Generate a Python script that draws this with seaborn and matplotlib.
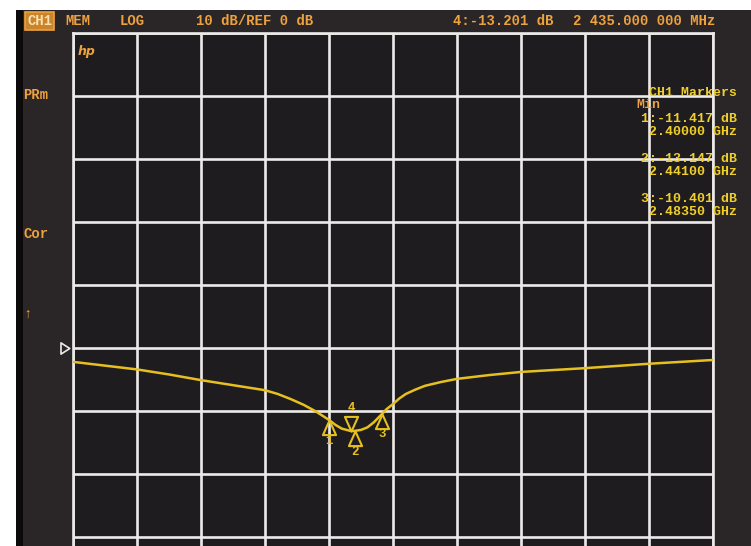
import numpy as np
import pandas as pd
import matplotlib
matplotlib.use("Agg")
import matplotlib.pyplot as plt
from matplotlib.path import Path
from matplotlib.patches import Rectangle
import seaborn as sns

# ---------------- data ----------------
freq_ghz = [2.00, 2.05, 2.10, 2.15, 2.20, 2.25, 2.30, 2.32, 2.34, 2.36, 2.38, 2.40,
            2.41, 2.42, 2.435, 2.441, 2.45, 2.46, 2.47, 2.4835, 2.49, 2.50, 2.51,
            2.52, 2.535, 2.55, 2.575, 2.60, 2.65, 2.70, 2.75, 2.80, 2.85, 2.90,
            2.95, 3.00]
s21_db = [-2.2, -2.8, -3.4, -4.2, -5.1, -5.9, -6.7, -7.3, -8.1, -9.0, -10.1, -11.417,
          -12.2, -12.8, -13.201, -13.147, -13.0, -12.6, -11.8, -10.401, -9.7, -8.9, -8.0,
          -7.3, -6.6, -6.0, -5.4, -4.9, -4.3, -3.8, -3.5, -3.2, -2.85, -2.5,
          -2.2, -1.9]

marker_ids = ["1", "2", "3", "4"]
marker_freq = [2.40, 2.441, 2.4835, 2.435]
marker_db = [-11.417, -13.147, -10.401, -13.201]

header_texts = ["MEM", "LOG", "10 dB/REF 0 dB", "4:-13.201 dB", "2 435.000 000 MHz"]
marker_list = ["1:-11.417 dB", "2.40000 GHz", "2:-13.147 dB", "2.44100 GHz",
               "3:-10.401 dB", "2.48350 GHz"]
side_labels = ["PRm", "Cor", "\u2191"]

# ---------------- styling ----------------
W, H = 751, 546
ORANGE = "#eea23e"
YELLOW = "#f0cf2a"
TRACE = "#e6c020"
GRID = "#ecebea"
FONT = "Liberation Mono"

sns.set_style("dark")
plt.rcParams["font.family"] = [FONT, "DejaVu Sans Mono", "DejaVu Sans"]

fig = plt.figure(figsize=(W / 100, H / 100), dpi=100, facecolor="white")

def fx(px):
    return px / W

def fy(py):
    return 1 - py / H

# screen background (photo of instrument screen)
fig.patches.append(Rectangle((fx(16), 0), 1 - fx(16), fy(10), transform=fig.transFigure,
                             facecolor="#2a2526", edgecolor="none", zorder=-10))
fig.patches.append(Rectangle((fx(16), 0), fx(7), fy(10), transform=fig.transFigure,
                             facecolor="#0c0a0a", edgecolor="none", zorder=-9))

# main axes: grid from x=73..713 px, top at y=33 px, 63 px per division, 10 divisions
left, top, pw, ph = 73, 33, 640, 630
ax = fig.add_axes([fx(left), fy(top + ph), fx(pw), ph / H])
ax.set_facecolor("#1e1c1e")

df = pd.DataFrame({"freq": freq_ghz, "db": s21_db})
sns.lineplot(data=df, x="freq", y="db", ax=ax, color=TRACE, linewidth=1.8, zorder=5)

ax.set_xlim(2.0, 3.0)
ax.set_ylim(-50, 50)
ax.set_xticks(np.arange(2.0, 3.0001, 0.1))
ax.set_yticks(np.arange(-50, 50.001, 10))
ax.grid(True, color=GRID, linewidth=1.9)
ax.tick_params(length=0, labelbottom=False, labelleft=False)
ax.set_xlabel("")
ax.set_ylabel("")
for sp in ax.spines.values():
    sp.set_visible(True)
    sp.set_color(GRID)
    sp.set_linewidth(1.9)

# marker triangles (tip at the data point)
up_tri = Path([(0, 0), (-0.45, -1), (0.45, -1), (0, 0)],
              [Path.MOVETO, Path.LINETO, Path.LINETO, Path.CLOSEPOLY])
down_tri = Path([(0, 0), (-0.45, 1), (0.45, 1), (0, 0)],
                [Path.MOVETO, Path.LINETO, Path.LINETO, Path.CLOSEPOLY])
for mid, mf, md in zip(marker_ids, marker_freq, marker_db):
    active = mid == "4"
    ax.plot([mf], [md], marker=down_tri if active else up_tri, markersize=21,
            markerfacecolor="none", markeredgecolor=TRACE, markeredgewidth=1.5,
            linestyle="none", zorder=6)
    ax.annotate(mid, (mf, md), xytext=(0, 17 if active else -15),
                textcoords="offset points", ha="center", va="center",
                color=TRACE, fontsize=9, fontweight="bold", zorder=7)

# reference-level triangle left of the grid
ref_tri = Path([(-0.3, 0), (-1.0, 0.45), (-1.0, -0.45), (-0.3, 0)],
               [Path.MOVETO, Path.LINETO, Path.LINETO, Path.CLOSEPOLY])
ax.plot([2.0], [0], marker=ref_tri, markersize=18, markerfacecolor="none",
        markeredgecolor=GRID, markeredgewidth=1.2, linestyle="none", clip_on=False)

# ---------------- texts ----------------
tkw = dict(fontsize=10, fontweight="bold", va="center", family=[FONT, "DejaVu Sans Mono"])
fig.text(fx(27), fy(21), "CH1", color="#fbe2b0", ha="left",
         bbox=dict(boxstyle="square,pad=0.12", facecolor="#c9842c", edgecolor=ORANGE,
                   linewidth=1.2), **tkw)
header_x = [65, 120, 196, 453, 573]
for hx, ht in zip(header_x, header_texts):
    fig.text(fx(hx), fy(21), ht, color=ORANGE, ha="left", **tkw)

fig.text(fx(78), fy(52), "hp", color=ORANGE, ha="left", fontsize=9, fontweight="bold",
         fontstyle="italic", va="center", family="DejaVu Sans")

side_y = [95, 234, 314]
for sy, st in zip(side_y, side_labels):
    fig.text(fx(23), fy(sy), st, color=ORANGE, ha="left",
             **{**tkw, "family": [FONT, "DejaVu Sans Mono", "DejaVu Sans"]})

mkw = dict(fontsize=9.5, fontweight="bold", va="center", family=[FONT, "DejaVu Sans Mono"])
fig.text(fx(737), fy(93), "CH1 Markers", color=YELLOW, ha="right", **mkw)
fig.text(fx(636), fy(105), "Min", color=ORANGE, ha="left", **mkw)
list_y = [119, 132, 159, 172, 199, 212]
for ly, lt in zip(list_y, marker_list):
    fig.text(fx(737), fy(ly), lt, color=YELLOW, ha="right", **mkw)

fig.savefig("out.png", dpi=100, facecolor=fig.get_facecolor())
